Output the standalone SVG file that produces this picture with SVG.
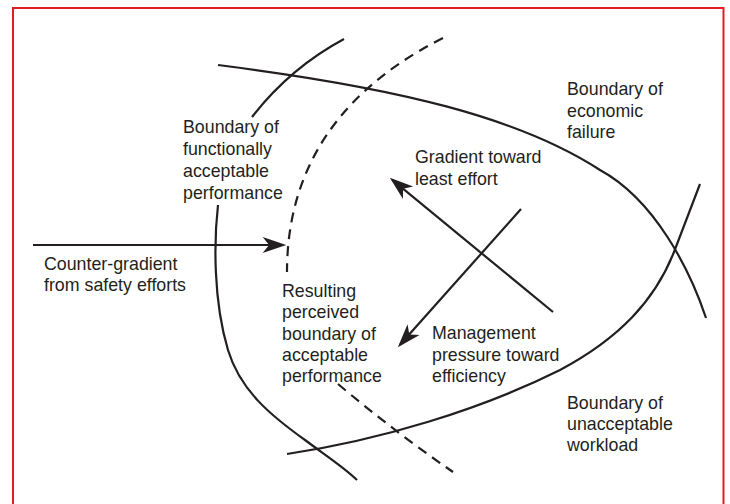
<svg xmlns="http://www.w3.org/2000/svg" width="730" height="504" viewBox="0 0 730 504">
<style>
.ln{fill:none;stroke:#231f20;stroke-width:2.2}
.da{fill:none;stroke:#231f20;stroke-width:2.2;stroke-dasharray:10 7}
.ar{fill:none;stroke:#231f20;stroke-width:2.2;marker-end:url(#ah)}
text{font-family:"Liberation Sans",Arial,sans-serif;font-size:17.8px;fill:#231f20}
</style>
<defs>
<marker id="ah" markerUnits="userSpaceOnUse" markerWidth="30" markerHeight="20" viewBox="-22 -9 28 18" refX="0" refY="0" orient="auto">
<path d="M3,0 L-19,-7.5 L-13,0 L-19,7.5 Z" fill="#231f20"/>
</marker>
</defs>
<rect x="13" y="8" width="710.5" height="510" fill="#fff" stroke="#e31b23" stroke-width="2"/>
<g id="boundary-functional">
<path class="ln" d="M344,39 Q290,68 252,117"/>
<path class="ln" d="M218,205 C214,240 213,300 228,350 C240,390 270,415 305,440 C325,455 345,468 357,480"/>
<text><tspan x="183" y="133">Boundary of</tspan><tspan x="183" y="155">functionally</tspan><tspan x="183" y="177">acceptable</tspan><tspan x="183" y="199">performance</tspan></text>
</g>
<g id="boundary-economic">
<path class="ln" d="M218,65 C400,88 520,118 600,170 C655,200 690,270 706,318"/>
<text><tspan x="567" y="95">Boundary of</tspan><tspan x="567" y="117">economic</tspan><tspan x="567" y="138">failure</tspan></text>
</g>
<g id="boundary-workload">
<path class="ln" d="M287,454 C380,440 480,410 560,370 C620,338 655,300 674,252 L700,184"/>
<text><tspan x="567" y="409">Boundary of</tspan><tspan x="567" y="430">unacceptable</tspan><tspan x="567" y="451">workload</tspan></text>
</g>
<g id="boundary-perceived">
<path class="da" d="M443,38 C320,100 287,190 287,272"/>
<path class="da" d="M338,384 Q395,432 453,472"/>
<text><tspan x="282" y="297">Resulting</tspan><tspan x="282" y="318">perceived</tspan><tspan x="282" y="339.5">boundary of</tspan><tspan x="282" y="360.5">acceptable</tspan><tspan x="282" y="381.5">performance</tspan></text>
</g>
<g id="label-counter">
<text><tspan x="44" y="270">Counter-gradient</tspan><tspan x="44" y="291">from safety efforts</tspan></text>
</g>
<g id="label-gradient">
<text><tspan x="415" y="163">Gradient toward</tspan><tspan x="415" y="185">least effort</tspan></text>
</g>
<g id="label-management">
<text><tspan x="432" y="339">Management</tspan><tspan x="432" y="361">pressure toward</tspan><tspan x="432" y="382">efficiency</tspan></text>
</g>
<g id="connectors">
<path class="ar" d="M33,245 L283,245"/>
<path class="ar" d="M553,312 L392.3,179.9"/>
<path class="ar" d="M521,209 L400,344.8"/>
</g>
</svg>
